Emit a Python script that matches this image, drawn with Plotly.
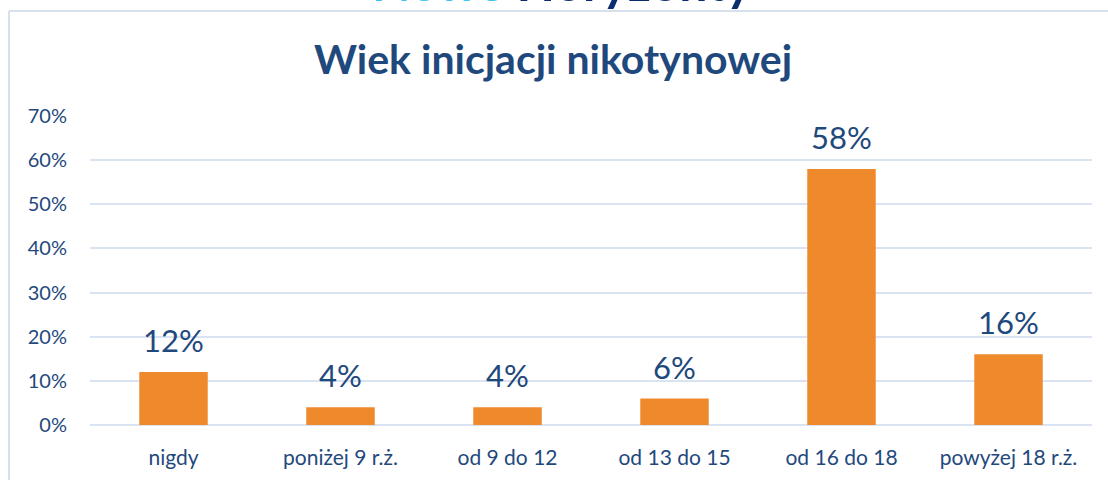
import plotly.graph_objects as go

categories = ["nigdy", "poniżej 9 r.ż.", "od 9 do 12", "od 13 do 15", "od 16 do 18", "powyżej 18 r.ż."]
values = [12, 4, 4, 6, 58, 16]
labels = ["12%", "4%", "4%", "6%", "58%", "16%"]
tick_vals = [0, 10, 20, 30, 40, 50, 60, 70]
tick_text = ["0%", "10%", "20%", "30%", "40%", "50%", "60%", "70%"]

W, H = 1108, 480
L, R, T, B = 90, 16, 116, 55
pw, ph = W - L - R, H - T - B

def px_x(x):
    return (x - L) / pw

def px_y(y):
    return 1 - (y - T) / ph

TXT = "#1F497D"
FONT = "Lato"
GRID = "#D9E3F2"

fig = go.Figure()
fig.add_trace(go.Bar(
    x=categories, y=values,
    marker=dict(color="#EE8A2B", line=dict(width=0)),
    hoverinfo="skip",
))

for c, v, t in zip(categories, values, labels):
    fig.add_annotation(x=c, y=v, text=t, showarrow=False, yanchor="bottom",
                       yshift=11, font=dict(family=FONT, size=31, color=TXT))

# cut-off header text at top
fig.add_annotation(xref="paper", yref="paper", x=px_x(562), y=px_y(13),
                   xanchor="center", yanchor="bottom", showarrow=False, borderpad=0,
                   text="<span style='color:#3FC4F2'>Nowe</span> <span style='color:#0B2D6E'>Horyzonty</span>",
                   font=dict(family=FONT, size=50, weight="bold"))

# border lines
fig.add_shape(type="line", xref="paper", yref="paper", x0=px_x(9), x1=px_x(9),
              y0=px_y(11), y1=px_y(482), line=dict(color="#D6E0EE", width=2))
fig.add_shape(type="line", xref="paper", yref="paper", x0=px_x(9), x1=px_x(1110),
              y0=px_y(11), y1=px_y(11), line=dict(color="#D6E0EE", width=2))

fig.update_layout(
    width=W, height=H,
    margin=dict(l=L, r=R, t=T, b=B, pad=0),
    paper_bgcolor="white", plot_bgcolor="white",
    bargap=0.59,
    showlegend=False,
    title=dict(text="<b>Wiek inicjacji nikotynowej</b>", x=553 / W,
               xanchor="center", y=1 - 60 / H, yanchor="middle",
               font=dict(family=FONT, size=41, color=TXT)),
    xaxis=dict(tickfont=dict(family=FONT, size=21, color=TXT), showgrid=False,
               showline=False, ticks="", ticklabelstandoff=18),
    yaxis=dict(range=[0, 70], tickvals=tick_vals, ticktext=tick_text,
               tickfont=dict(family=FONT, size=20, color=TXT),
               showgrid=True, gridcolor=GRID, gridwidth=2,
               zeroline=True, zerolinecolor=GRID, zerolinewidth=2,
               showline=False, ticks="", ticklabelstandoff=22),
)

fig.write_html("out.html", config={"displayModeBar": False},
               post_script="document.body.style.margin='0px';document.body.style.overflow='hidden';")
